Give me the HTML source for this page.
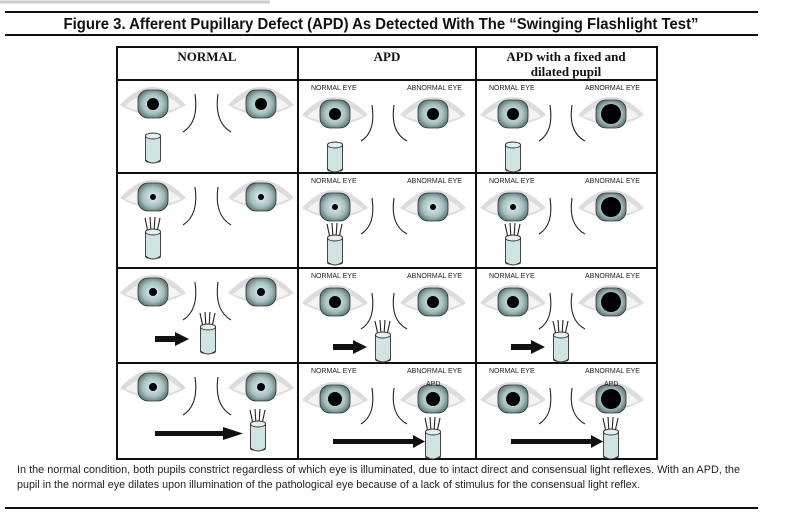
<!DOCTYPE html>
<html><head><meta charset="utf-8"><style>
html,body{margin:0;padding:0;background:#fff;width:791px;height:514px;overflow:hidden}
text{font-family:"Liberation Sans",sans-serif}
</style></head><body>
<svg width="791" height="514" viewBox="0 0 791 514" xmlns="http://www.w3.org/2000/svg">
<defs>
<radialGradient id="ig" cx="50%" cy="50%" r="55%">
<stop offset="0" stop-color="#e6f2f2"/><stop offset="0.65" stop-color="#a3bdbd"/><stop offset="1" stop-color="#5d7575"/>
</radialGradient>
<g id="eye">
<path d="M-33,2 Q0,-34 33,2 Q0,22 -33,2 Z" fill="#dcdcdc"/>
<path d="M-28,3 Q0,-22 28,3 Q0,16 -28,3 Z" fill="#f4f4f4"/>
<rect x="-15" y="-13" width="30" height="28" rx="10" fill="url(#ig)" stroke="#333" stroke-width="0.8"/>
</g>
<g id="brk" fill="none" stroke="#222" stroke-width="1.1">
<path d="M78,14 Q82,42 66,52"/>
<path d="M101,14 Q97,42 114,52"/>
</g>
<g id="brk2" fill="none" stroke="#222" stroke-width="1.1">
<path d="M74,25 Q78,52 63,61"/>
<path d="M96,25 Q92,52 109,61"/>
</g>
<g id="cyl">
<rect x="-7.5" y="0" width="15" height="28" rx="2" fill="#cfe5e3" stroke="#333" stroke-width="0.9"/>
<path d="M-7.5,26 Q0,32 7.5,26" fill="#cfe5e3" stroke="#333" stroke-width="0.9"/>
<ellipse cx="0" cy="2" rx="7.5" ry="3" fill="#e3f1f0" stroke="#333" stroke-width="0.9"/>
</g>
<g id="ray" stroke="#222" stroke-width="1.1">
<line x1="-5" y1="2" x2="-8" y2="-12"/><line x1="-2" y1="2" x2="-3" y2="-13"/><line x1="1" y1="2" x2="2" y2="-13"/><line x1="4" y1="2" x2="7" y2="-12"/>
</g>
</defs>
<line x1="0" y1="2" x2="270" y2="2" stroke="#ccc" stroke-width="3"/>
<line x1="5" y1="12" x2="758" y2="12" stroke="#111" stroke-width="2"/>
<text x="381" y="29" text-anchor="middle" font-size="16" font-weight="bold" textLength="635" lengthAdjust="spacingAndGlyphs" fill="#111">Figure 3. Afferent Pupillary Defect (APD) As Detected With The “Swinging Flashlight Test”</text>
<line x1="5" y1="35" x2="758" y2="35" stroke="#111" stroke-width="2"/>

<g fill="none" stroke="#111" stroke-width="2">
<rect x="117" y="47" width="540" height="412"/>
<line x1="117" y1="80" x2="657" y2="80"/>
<line x1="117" y1="173" x2="657" y2="173"/>
<line x1="117" y1="268" x2="657" y2="268"/>
<line x1="117" y1="363" x2="657" y2="363"/>
<line x1="298" y1="47" x2="298" y2="459"/>
<line x1="476" y1="47" x2="476" y2="459"/>
</g>
<g font-weight="bold" font-size="13" text-anchor="middle" fill="#111">
<text x="207" y="61" style="font-family:'Liberation Serif',serif">NORMAL</text>
<text x="387" y="61" style="font-family:'Liberation Serif',serif">APD</text>
<text x="566" y="61" style="font-family:'Liberation Serif',serif">APD with a fixed and</text>
<text x="566" y="76" style="font-family:'Liberation Serif',serif">dilated pupil</text>
</g>

<!-- NORMAL column -->
<g transform="translate(117,80)">
<use href="#eye" x="36" y="23"/><circle cx="36" cy="24" r="6"/>
<use href="#eye" x="144" y="23"/><circle cx="144" cy="24" r="6"/>
<use href="#brk"/>
<use href="#cyl" x="36" y="54"/>
</g>
<g transform="translate(117,173)">
<use href="#eye" x="36" y="23"/><circle cx="36" cy="24" r="3"/>
<use href="#eye" x="144" y="23"/><circle cx="144" cy="24" r="3"/>
<use href="#brk"/>
<use href="#ray" x="36" y="57"/><use href="#cyl" x="36" y="57"/>
</g>
<g transform="translate(117,268)">
<use href="#eye" x="36" y="23"/><circle cx="36" cy="24" r="4"/>
<use href="#eye" x="144" y="23"/><circle cx="144" cy="24" r="4"/>
<use href="#brk"/>
<use href="#ray" x="91" y="57"/><use href="#cyl" x="91" y="57"/>
<rect x="38" y="68" width="22" height="6" fill="#111"/><path d="M58,64 L72,71 L58,78 Z" fill="#111"/>
</g>
<g transform="translate(117,363)">
<use href="#eye" x="36" y="23"/><circle cx="36" cy="24" r="4"/>
<use href="#eye" x="144" y="23"/><circle cx="144" cy="24" r="4"/>
<use href="#brk"/>
<use href="#ray" x="141" y="59"/><use href="#cyl" x="141" y="59"/>
<rect x="38" y="68" width="72" height="5" fill="#111"/><path d="M106,64 L126,70.5 L106,77 Z" fill="#111"/>
</g>

<!-- APD column -->
<g transform="translate(298,80)">
<use href="#eye" x="37" y="33"/><circle cx="37" cy="34" r="6"/>
<use href="#eye" x="135" y="33"/><circle cx="135" cy="34" r="6"/>
<use href="#brk2"/><use href="#cyl" x="37" y="63"/>
</g>
<g transform="translate(298,173)">
<use href="#eye" x="37" y="33"/><circle cx="37" cy="34" r="3"/>
<use href="#eye" x="135" y="33"/><circle cx="135" cy="34" r="3"/>
<use href="#brk2"/><use href="#ray" x="37" y="63"/><use href="#cyl" x="37" y="63"/>
</g>
<g transform="translate(298,268)">
<use href="#eye" x="37" y="33"/><circle cx="37" cy="34" r="6"/>
<use href="#eye" x="135" y="33"/><circle cx="135" cy="34" r="6"/>
<use href="#brk2"/><use href="#ray" x="85" y="65"/><use href="#cyl" x="85" y="65"/>
<rect x="35" y="76" width="22" height="6" fill="#111"/><path d="M55,72 L69,79 L55,86 Z" fill="#111"/>
</g>
<g transform="translate(298,363)">
<use href="#eye" x="37" y="35"/><circle cx="37" cy="36" r="7"/>
<use href="#eye" x="135" y="35"/><circle cx="135" cy="36" r="7"/>
<use href="#brk2"/><use href="#ray" x="135" y="67"/><use href="#cyl" x="135" y="67"/>
<rect x="35" y="76" width="85" height="5" fill="#111"/><path d="M115,72 L127,78.5 L115,85 Z" fill="#111"/>
</g>

<!-- APD fixed column -->
<g transform="translate(476,80)">
<use href="#eye" x="37" y="33"/><circle cx="37" cy="34" r="6"/>
<use href="#eye" x="135" y="33"/><circle cx="135" cy="34" r="10"/>
<use href="#brk2"/><use href="#cyl" x="37" y="63"/>
</g>
<g transform="translate(476,173)">
<use href="#eye" x="37" y="33"/><circle cx="37" cy="34" r="3"/>
<use href="#eye" x="135" y="33"/><circle cx="135" cy="34" r="10"/>
<use href="#brk2"/><use href="#ray" x="37" y="63"/><use href="#cyl" x="37" y="63"/>
</g>
<g transform="translate(476,268)">
<use href="#eye" x="37" y="33"/><circle cx="37" cy="34" r="6"/>
<use href="#eye" x="135" y="33"/><circle cx="135" cy="34" r="10"/>
<use href="#brk2"/><use href="#ray" x="85" y="65"/><use href="#cyl" x="85" y="65"/>
<rect x="35" y="76" width="22" height="6" fill="#111"/><path d="M55,72 L69,79 L55,86 Z" fill="#111"/>
</g>
<g transform="translate(476,363)">
<use href="#eye" x="37" y="35"/><circle cx="37" cy="36" r="7"/>
<use href="#eye" x="135" y="35"/><circle cx="135" cy="36" r="10"/>
<use href="#brk2"/><use href="#ray" x="135" y="67"/><use href="#cyl" x="135" y="67"/>
<rect x="35" y="76" width="85" height="5" fill="#111"/><path d="M115,72 L127,78.5 L115,85 Z" fill="#111"/>
</g>

<g font-size="7" fill="#222">
<text x="311" y="90">NORMAL EYE</text><text x="407" y="90">ABNORMAL EYE</text>
<text x="311" y="183">NORMAL EYE</text><text x="407" y="183">ABNORMAL EYE</text>
<text x="311" y="278">NORMAL EYE</text><text x="407" y="278">ABNORMAL EYE</text>
<text x="311" y="373">NORMAL EYE</text><text x="407" y="373">ABNORMAL EYE</text>
<text x="489" y="90">NORMAL EYE</text><text x="585" y="90">ABNORMAL EYE</text>
<text x="489" y="183">NORMAL EYE</text><text x="585" y="183">ABNORMAL EYE</text>
<text x="489" y="278">NORMAL EYE</text><text x="585" y="278">ABNORMAL EYE</text>
<text x="489" y="373">NORMAL EYE</text><text x="585" y="373">ABNORMAL EYE</text>
<text x="426" y="386">APD</text><text x="604" y="386">APD</text>
</g>

<g font-size="11" fill="#222">
<text x="17" y="473" textLength="723" lengthAdjust="spacingAndGlyphs">In the normal condition, both pupils constrict regardless of which eye is illuminated, due to intact direct and consensual light reflexes. With an APD, the</text>
<text x="17" y="488" textLength="623" lengthAdjust="spacingAndGlyphs">pupil in the normal eye dilates upon illumination of the pathological eye because of a lack of stimulus for the consensual light reflex.</text>
</g>
<line x1="5" y1="508" x2="758" y2="508" stroke="#111" stroke-width="2"/>
</svg>
</body></html>
